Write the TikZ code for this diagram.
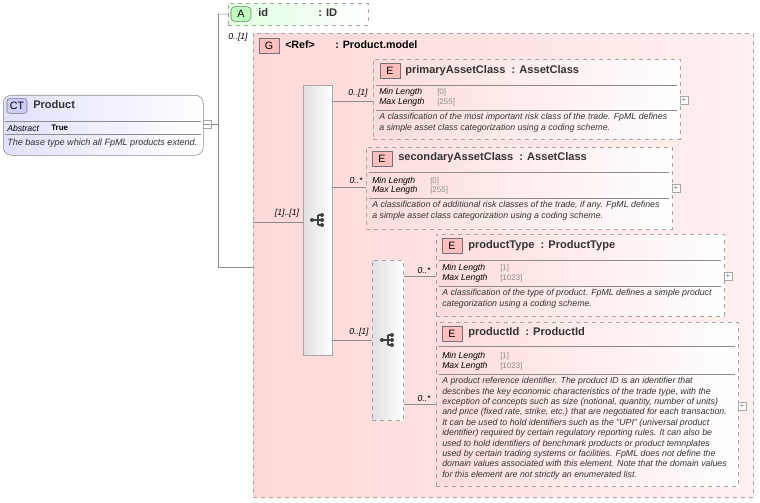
\documentclass[tikz,border=0pt]{standalone}
\usepackage{fontspec}
\setmainfont{Liberation Sans}
\begin{document}
\begin{tikzpicture}[x=0.75pt,y=-0.75pt,
  bx/.style 2 args={anchor=north west,inner sep=0,minimum width=#1*0.75pt,minimum height=#2*0.75pt},
  el/.style={draw=black!35,dashed,left color=red!14,right color=white},
  badge/.style={draw=black!55,fill=red!25,font=\fontsize{8}{9}\selectfont,minimum width=15pt,minimum height=11pt,inner sep=0},
  ttl/.style={anchor=west,font=\bfseries\fontsize{8.3}{10}\selectfont,text=black!80,inner sep=0},
  lab/.style={anchor=west,font=\itshape\fontsize{6.5}{7}\selectfont,inner sep=0},
  val/.style={anchor=west,font=\fontsize{6}{7}\selectfont,text=black!45,inner sep=0},
  desc/.style={anchor=north west,align=left,font=\itshape\fontsize{6.6}{7.8}\selectfont,text=black!80,inner sep=0},
  card/.style={anchor=south,font=\itshape\fontsize{6.5}{7}\selectfont,inner sep=1pt},
  sep/.style={draw=black!45},
  con/.style={draw=black!45},
  plus/.style={draw=black!35,fill=white,minimum size=6pt,inner sep=0,font=\fontsize{6}{6}\selectfont,text=black!50},
  seqicon/.pic={
    \draw[black!75,line width=0.8pt] (-6,0) -- (0,0) (0,-5) -- (0,5) (0,-5) -- (4,-5) (0,5) -- (4,5) (0,0) -- (4,0);
    \fill[black!75] (-6,0) circle (2) (4,-5) circle (2) (4,0) circle (2) (4,5) circle (2);
  }]
\useasboundingbox (0,0) rectangle (760,503);
% CT Product
\node[bx={200}{60},draw=black!45,rounded corners=6pt,left color=blue!12,right color=white,at={(3,95)}] (ct) {};
\node[badge,fill=blue!20,rounded corners=2pt,at={(17,106)}] (ctb) {CT};
\node[ttl,at={(33,105)}] (ctt) {Product};
\draw[sep] (5,121) -- (201,121);
\node[lab,at={(7,128)}] (ab) {Abstract};
\node[anchor=west,inner sep=0,font=\bfseries\fontsize{6}{7}\selectfont,at={(51,128)}] (abv) {True};
\draw[sep] (5,134) -- (201,134);
\node[lab,at={(7,143)},text=black!80,font=\itshape\fontsize{6.8}{8}\selectfont] (ctd) {The base type which all FpML products extend.};
\node[draw=black!35,fill=white,minimum size=6pt,inner sep=0,at={(207,124)}] (ctm) {};
\draw[black!45] ([xshift=-2pt]ctm.center) -- ([xshift=2pt]ctm.center);
% G box
\node[bx={500}{464},draw=black!35,dashed,left color=red!15,right color=red!6,at={(253,33)}] (g) {};
\node[badge,at={(269,46)}] (gb) {G};
\node[anchor=west,inner sep=0,font=\fontsize{8}{9}\selectfont,at={(285,45)}] (gr) {\textbf{<Ref>}};
\node[anchor=west,inner sep=0,font=\bfseries\fontsize{8}{9}\selectfont,at={(335,45)}] (gt) {: Product.model};
% id attribute
\node[bx={140}{22},draw=black!35,dashed,left color=green!12,right color=white,at={(228,3)}] (id) {};
\node[badge,fill=green!25,rounded corners=3pt,at={(241,14)}] (idb) {A};
\node[ttl,at={(258,13)}] (idt) {id};
\node[ttl,at={(318,13)}] (idty) {: ID};
\coordinate (j1) at (218,124);
\coordinate (j2) at (218,14);
\coordinate (j3) at (218,267);
\draw[con] (ctm.east) -- (j1);
\draw[con] (j2) -- (j3);
\draw[con] (j2) -- (id.west);
\draw[con] (j3) -- (g.west |- j3);
\node[card,at={(238,43)}] (c0) {0..[1]};
% sequence 1
\node[bx={29}{270},draw=black!35,left color=black!12,right color=white,at={(303,85)}] (s1) {};
\coordinate (gin) at (253,222);
\draw[con] (gin) -- (s1.west |- gin);
\node[card,at={(287,219)}] (c1) {[1]..[1]};
\pic at (318,220) {seqicon};
% primaryAssetClass
\node[bx={307}{80},el,at={(373,59)}] (pa) {};
\node[badge,at={(390,71)}] (pab) {E};
\node[ttl,at={(405,71)}] (pat) {primaryAssetClass\ \ : AssetClass};
\draw[sep] (376,85) -- (677,85);
\node[lab,at={(379,92)}] (pa1) {Min Length}; \node[val,at={(437,92)}] (pa1v) {[0]};
\node[lab,at={(379,102)}] (pa2) {Max Length}; \node[val,at={(437,102)}] (pa2v) {[255]};
\draw[sep] (376,110) -- (677,110);
\node[desc,at={(379,113)}] (pad) {A classification of the most important risk class of the trade. FpML defines\\a simple asset class categorization using a coding scheme.};
\node[plus,at={(684,100)}] (pap) {+};
% secondaryAssetClass
\node[bx={306}{82},el,at={(366,147)}] (sa) {};
\node[badge,at={(382,159)}] (sab) {E};
\node[ttl,at={(398,158)}] (sat) {secondaryAssetClass\ \ : AssetClass};
\draw[sep] (369,172) -- (669,172);
\node[lab,at={(372,181)}] (sa1) {Min Length}; \node[val,at={(430,181)}] (sa1v) {[0]};
\node[lab,at={(372,190)}] (sa2) {Max Length}; \node[val,at={(430,190)}] (sa2v) {[255]};
\draw[sep] (369,198) -- (669,198);
\node[desc,at={(372,201)}] (sad) {A classification of additional risk classes of the trade, if any. FpML defines\\a simple asset class categorization using a coding scheme.};
\node[plus,at={(676,188)}] (sap) {+};
% choice box
\node[bx={31}{160},draw=black!35,dashed,left color=black!12,right color=white,at={(372,260)}] (s2) {};
\pic at (388,340) {seqicon};
% productType
\node[bx={288}{82},el,at={(436,234)}] (pt) {};
\node[badge,at={(452,246)}] (ptb) {E};
\node[ttl,at={(468,246)}] (ptt) {productType\ \ : ProductType};
\draw[sep] (439,260) -- (721,260);
\node[lab,at={(442,268)}] (pt1) {Min Length}; \node[val,at={(500,268)}] (pt1v) {[1]};
\node[lab,at={(442,278)}] (pt2) {Max Length}; \node[val,at={(500,278)}] (pt2v) {[1023]};
\draw[sep] (439,286) -- (721,286);
\node[desc,at={(442,289)}] (ptd) {A classification of the type of product. FpML defines a simple product\\categorization using a coding scheme.};
\node[plus,at={(728,276)}] (ptp) {+};
% productId
\node[bx={302}{164},el,at={(436,322)}] (pi) {};
\node[badge,at={(452,334)}] (pib) {E};
\node[ttl,at={(468,333)}] (pit) {productId\ \ : ProductId};
\draw[sep] (439,346) -- (735,346);
\node[lab,at={(442,356)}] (pi1) {Min Length}; \node[val,at={(500,356)}] (pi1v) {[1]};
\node[lab,at={(442,366)}] (pi2) {Max Length}; \node[val,at={(500,366)}] (pi2v) {[1023]};
\draw[sep] (439,374) -- (735,374);
\node[desc,at={(442,377)}] (pid) {A product reference identifier. The product ID is an identifier that\\describes the key economic characteristics of the trade type, with the\\exception of concepts such as size (notional, quantity, number of units)\\and price (fixed rate, strike, etc.) that are negotiated for each transaction.\\It can be used to hold identifiers such as the "UPI" (universal product\\identifier) required by certain regulatory reporting rules. It can also be\\used to hold identifiers of benchmark products or product temnplates\\used by certain trading systems or facilities. FpML does not define the\\domain values associated with this element. Note that the domain values\\for this element are not strictly an enumerated list.};
\node[plus,at={(742,406)}] (pip) {+};
% connectors
\draw[con] (s1.east |- 0,101) -- (pa.west |- 0,101);
\node[card,at={(358,99)}] (ca) {0..[1]};
\draw[con] (s1.east |- 0,187) -- (sa.west |- 0,187);
\node[card,at={(356,185)}] (cb) {0..*};
\draw[con] (s1.east |- 0,340) -- (s2.west |- 0,340);
\node[card,at={(359,338)}] (cc) {0..[1]};
\draw[con] (s2.east |- 0,276) -- (pt.west |- 0,276);
\node[card,at={(424,275)}] (cd) {0..*};
\draw[con] (s2.east |- 0,404) -- (pi.west |- 0,404);
\node[card,at={(424,403)}] (ce) {0..*};
\end{tikzpicture}
\end{document}
